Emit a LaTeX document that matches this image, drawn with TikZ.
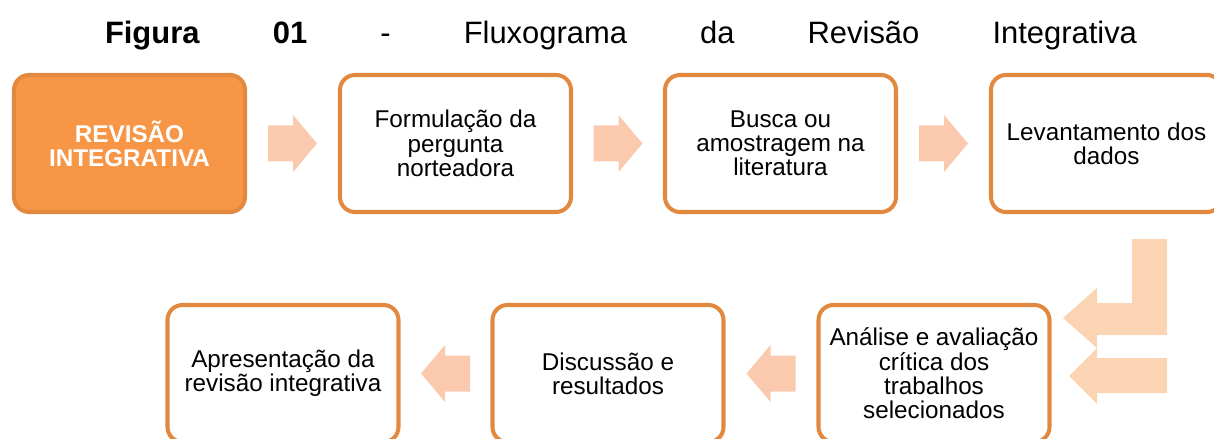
\documentclass[tikz,border=0pt]{standalone}
\usepackage{fontspec}
\setmainfont{Liberation Sans}
\usetikzlibrary{calc}

\definecolor{borda}{HTML}{E2893F}
\definecolor{laranja}{HTML}{F79646}
\definecolor{pessego}{HTML}{FAC9AE}
\definecolor{pessegoclaro}{HTML}{FBD4B4}

\tikzset{
  passo/.style={draw=borda, line width=2.3pt, rounded corners=0.3cm, fill=white,
    minimum width=4.62cm, minimum height=2.74cm, align=center,
    font=\fontsize{13.8}{13.8}\selectfont},
  seta/.style={fill=pessego},
  setadir/.pic={\fill[seta] (-0.49,-0.36) -- (0.01,-0.36) -- (0.01,-0.57) -- (0.49,0)
    -- (0.01,0.57) -- (0.01,0.36) -- (-0.49,0.36) -- cycle;}
}

\begin{document}
\begin{tikzpicture}
  \useasboundingbox (0,0) rectangle (24.28,-8.78);

  % titulo
  \node[anchor=base, font=\fontsize{17.6}{17.6}\selectfont] (titulo) at (12.42,-0.88)
    {\makebox[20.64cm][s]{\textbf{Figura} \textbf{01} - Fluxograma da Revisão Integrativa}};

  % primeira linha
  \node[passo, fill=laranja, text=white, font=\fontsize{13.8}{13.8}\selectfont\bfseries] (b1) at (2.59,-2.87) {REVISÃO\\INTEGRATIVA};
  \node[passo] (b2) at (9.11,-2.87) {Formulação da\\pergunta\\norteadora};
  \node[passo] (b3) at (15.61,-2.87) {Busca ou\\amostragem na\\literatura};
  \node[passo] (b4) at (22.13,-2.87) {Levantamento dos\\dados};

  % segunda linha
  \node[passo] (b5) at (18.68,-7.47) {Análise e avaliação\\crítica dos\\trabalhos\\selecionados};
  \node[passo] (b6) at (12.16,-7.47) {Discussão e\\resultados};
  \node[passo] (b7) at (5.66,-7.47) {Apresentação da\\revisão integrativa};

  % setas
  \pic at ($(b1.east)!0.5!(b2.west)$) {setadir};
  \pic at ($(b2.east)!0.5!(b3.west)$) {setadir};
  \pic at ($(b3.east)!0.5!(b4.west)$) {setadir};
  \pic[xscale=-1] at ($(b6.east)!0.5!(b5.west)$) {setadir};
  \pic[xscale=-1] at ($(b7.east)!0.5!(b6.west)$) {setadir};

  % seta dobrada
  \fill[pessegoclaro] (22.64,-4.78) -- (23.34,-4.78) -- (23.34,-6.70) -- (21.94,-6.70)
    -- (21.94,-6.96) -- (21.26,-6.36) -- (21.94,-5.76) -- (21.94,-6.06) -- (22.64,-6.06) -- cycle;
  \fill[pessegoclaro] (23.34,-7.16) -- (23.34,-7.86) -- (21.94,-7.86) -- (21.94,-8.08)
    -- (21.38,-7.52) -- (21.94,-6.96) -- (21.94,-7.16) -- cycle;
\end{tikzpicture}
\end{document}
